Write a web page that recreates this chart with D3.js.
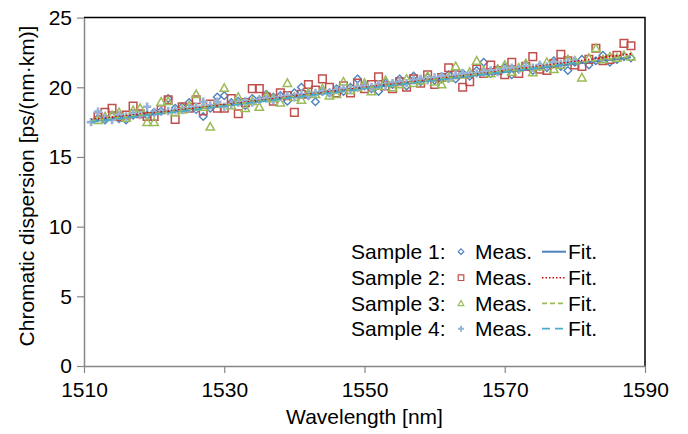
<!DOCTYPE html>
<html>
<head>
<meta charset="utf-8">
<script src="https://cdn.jsdelivr.net/npm/d3@7"></script>
<style>
  body { margin: 0; background: #fff; }
  text { font-family: "Liberation Sans", Arial, sans-serif; }
</style>
</head>
<body>
<div id="chart"></div>
<script>
// measured wavelengths [nm]
const wl123 = d3.range(1512, 1589);
const wl4 = d3.range(1511, 1581);

// measured chromatic dispersion [ps/(nm km)]
const meas1 = [17.8, 17.65, 17.9, 17.75, 17.65, 18.0, 18.1, 18.0, 18.2, 18.3, 19.2, 18.5, 18.6, 18.9, 18.4, 17.9, 18.5, 19.3, 19.4,
  18.9, 19.0, 18.7, 19.2, 19.1, 19.5, 19.3, 19.4, 19.0, 19.6, 20.0, 19.4, 18.96, 19.7, 19.6, 19.9, 19.7, 20.0, 20.6, 20.1,
  19.9, 19.7, 20.3, 20.2, 20.6, 20.1, 20.8, 20.4, 20.7, 20.5, 20.6, 20.9, 20.6, 21.0, 20.8, 21.2, 21.8, 21.0, 21.3, 21.4,
  20.9, 21.3, 21.6, 21.2, 21.5, 21.4, 21.9, 21.5, 21.2, 21.8, 22.0, 21.6, 21.9, 22.3, 21.8, 22.0, 22.2, 22.1];
const meas2 = [17.9, 18.2, 18.5, 17.9, 18.0, 18.65, 18.1, 17.9, 17.9, 18.4, 19.1, 17.7, 18.6, 18.5, 19.1, 18.3, 18.8, 18.5, 18.5,
  19.2, 18.1, 18.9, 19.9, 19.9, 19.3, 19.0, 19.6, 19.4, 18.2, 19.5, 20.2, 19.8, 20.6, 20.0, 19.6, 20.1, 19.6, 20.3, 19.9,
  20.2, 20.75, 20.1, 19.9, 20.4, 20.0, 20.6, 20.3, 20.9, 20.2, 20.7, 21.4, 20.9, 20.0, 20.4, 21.3, 21.0, 21.6, 21.2, 20.9,
  21.8, 21.0, 21.5, 22.2, 21.3, 21.2, 21.7, 22.36, 21.9, 21.6, 21.5, 22.0, 22.8, 21.9, 22.0, 22.3, 23.15, 22.98];
const meas3 = [17.65, 17.9, 18.0, 18.2, 17.8, 18.36, 18.5, 17.5, 17.5, 18.96, 19.0, 18.2, 18.4, 18.7, 19.5, 18.6, 17.17, 18.8, 19.95,
  18.7, 19.3, 18.5, 19.0, 18.6, 19.4, 19.2, 18.9, 20.3, 19.3, 19.1, 19.6, 19.5, 19.9, 19.4, 19.5, 20.4, 19.8, 20.0, 20.3,
  19.7, 20.1, 20.5, 20.0, 20.2, 20.6, 20.3, 20.5, 20.8, 20.4, 20.2, 20.7, 21.5, 20.9, 21.1, 21.9, 21.2, 21.0, 21.3, 21.6,
  21.1, 21.4, 21.7, 21.07, 21.5, 21.8, 21.3, 21.6, 22.0, 21.9, 20.7, 22.1, 22.8, 22.0, 22.2, 22.1, 22.3, 22.2];
const meas4 = [17.5, 18.25, 17.8, 17.65, 18.0, 17.9, 18.1, 18.0, 18.6, 18.2, 18.25, 18.3, 18.4, 18.36, 18.5, 18.6, 18.96, 18.7, 18.96,
  18.6, 18.8, 18.9, 19.0, 18.9, 19.1, 19.2, 19.1, 19.3, 19.4, 19.3, 19.5, 19.4, 19.6, 19.7, 19.6, 19.8, 19.9, 19.8, 20.0,
  20.1, 20.0, 20.2, 20.1, 20.3, 20.4, 20.3, 20.5, 20.6, 20.5, 20.7, 20.8, 20.6, 20.9, 21.0, 20.9, 21.0, 21.1, 21.2, 21.1,
  21.3, 21.4, 21.3, 21.5, 21.4, 21.6, 21.5, 21.8, 21.7, 21.8, 21.9];

// fitted curves
const fitWl123 = [1511, 1530, 1550, 1570, 1588];
const fitWl4 = [1511, 1530, 1550, 1570, 1580];
const fit1 = [17.6, 18.7, 19.95, 21.1, 22.15];
const fit2 = [17.7, 18.75, 20.0, 21.2, 22.4];
const fit3 = [17.6, 18.7, 19.95, 21.15, 22.2];
const fit4 = [17.5, 18.65, 19.9, 21.1, 21.75];

const xTicks = [1510, 1530, 1550, 1570, 1590];
const yTicks = [0, 5, 10, 15, 20, 25];
const sampleNames = ["Sample 1:", "Sample 2:", "Sample 3:", "Sample 4:"];

const width = 688, height = 434;
const margin = { top: 17.6, right: 43, bottom: 68, left: 84 };
const innerW = width - margin.left - margin.right;
const innerH = height - margin.top - margin.bottom;

const svg = d3.select("#chart").append("svg")
  .attr("width", width)
  .attr("height", height);

const g = svg.append("g")
  .attr("transform", `translate(${margin.left},${margin.top})`);

const x = d3.scaleLinear().domain([1510, 1590]).range([0, innerW]);
const y = d3.scaleLinear().domain([0, 25]).range([innerH, 0]);

// marker shapes
function shapePath(kind, r) {
  if (kind === "diamond") return `M0,${-r}L${r},0L0,${r}L${-r},0Z`;
  if (kind === "square") return `M${-r},${-r}H${r}V${r}H${-r}Z`;
  if (kind === "triangle") return `M0,${-r}L${r},${r * 0.8}L${-r},${r * 0.8}Z`;
  return `M${-r},0H${r}M0,${-r}V${r}`;
}

const series = [
  { wl: wl123, v: meas1, fw: fitWl123, fv: fit1, shape: "diamond", r: 3.8, mc: "#4f81bd", sw: 1.4,
    lc: "#4f81bd", dash: null, lw: 2 },
  { wl: wl123, v: meas2, fw: fitWl123, fv: fit2, shape: "square", r: 3.8, mc: "#c0504d", sw: 1.5,
    lc: "#d40000", dash: "1.5,2", lw: 1.6 },
  { wl: wl123, v: meas3, fw: fitWl123, fv: fit3, shape: "triangle", r: 4.2, mc: "#9bbb59", sw: 1.5,
    lc: "#9bbb59", dash: "5,3", lw: 1.8 },
  { wl: wl4, v: meas4, fw: fitWl4, fv: fit4, shape: "plus", r: 4.2, mc: "#95b3d7", sw: 2.6,
    lc: "#4bacc6", dash: "8,5", lw: 1.8 }
];

// frame: top and right black border
g.append("path")
  .attr("d", `M0,0H${innerW}V${innerH}`)
  .attr("fill", "none")
  .attr("stroke", "#000")
  .attr("stroke-width", 1.5);

// markers
series.forEach(s => {
  g.append("g").selectAll("path")
    .data(s.wl.map((w, i) => [w, s.v[i]]))
    .join("path")
    .attr("transform", d => `translate(${x(d[0])},${y(d[1])})`)
    .attr("d", shapePath(s.shape, s.r))
    .attr("fill", "none")
    .attr("stroke", s.mc)
    .attr("stroke-width", s.sw);
});

// fit lines
const line = d3.line().x(d => x(d[0])).y(d => y(d[1])).curve(d3.curveMonotoneX);
series.forEach(s => {
  g.append("path")
    .datum(s.fw.map((w, i) => [w, s.fv[i]]))
    .attr("d", line)
    .attr("fill", "none")
    .attr("stroke", s.lc)
    .attr("stroke-width", s.lw)
    .attr("stroke-dasharray", s.dash);
});

// axes
const xAxis = g.append("g")
  .attr("transform", `translate(0,${innerH})`)
  .call(d3.axisBottom(x).tickValues(xTicks).tickFormat(d3.format("d")).tickSize(7).tickPadding(9).tickSizeOuter(0));
const yAxis = g.append("g")
  .call(d3.axisLeft(y).tickValues(yTicks).tickSize(7).tickPadding(5).tickSizeOuter(0));

[xAxis, yAxis].forEach(a => {
  a.select(".domain").attr("stroke", "#868686").attr("stroke-width", 1.5);
  a.selectAll(".tick line").attr("stroke", "#868686").attr("stroke-width", 1.2);
  a.selectAll(".tick text").attr("fill", "#000").style("font-size", "21px")
    .style("font-family", "'Liberation Sans', Arial, sans-serif");
});

// axis titles
svg.append("text")
  .attr("x", margin.left + innerW / 2)
  .attr("y", 424)
  .attr("text-anchor", "middle")
  .style("font-size", "21px")
  .text("Wavelength [nm]");

svg.append("text")
  .attr("transform", `translate(34,186) rotate(-90)`)
  .attr("text-anchor", "middle")
  .style("font-size", "21px")
  .text("Chromatic dispersion [ps/(nm·km)]");

// legend
const legend = svg.append("g");
const rowY = [251.7, 277.7, 303.3, 328.7];
series.forEach((s, i) => {
  const row = legend.append("g").attr("transform", `translate(0,${rowY[i]})`);
  row.append("text").attr("x", 351).attr("y", 7.5).style("font-size", "21px").text(sampleNames[i]);
  row.append("path")
    .attr("transform", "translate(461,0)")
    .attr("d", shapePath(s.shape, s.shape === "plus" ? 3 : 2.8))
    .attr("fill", "none")
    .attr("stroke", s.mc)
    .attr("stroke-width", s.shape === "plus" ? 2 : 1.2);
  row.append("text").attr("x", 475).attr("y", 7.5).style("font-size", "21px").text("Meas.");
  row.append("line")
    .attr("x1", 542).attr("x2", 566)
    .attr("stroke", s.lc)
    .attr("stroke-width", s.lw)
    .attr("stroke-dasharray", s.dash);
  row.append("text").attr("x", 568).attr("y", 7.5).style("font-size", "21px").text("Fit.");
});
</script>
</body>
</html>
